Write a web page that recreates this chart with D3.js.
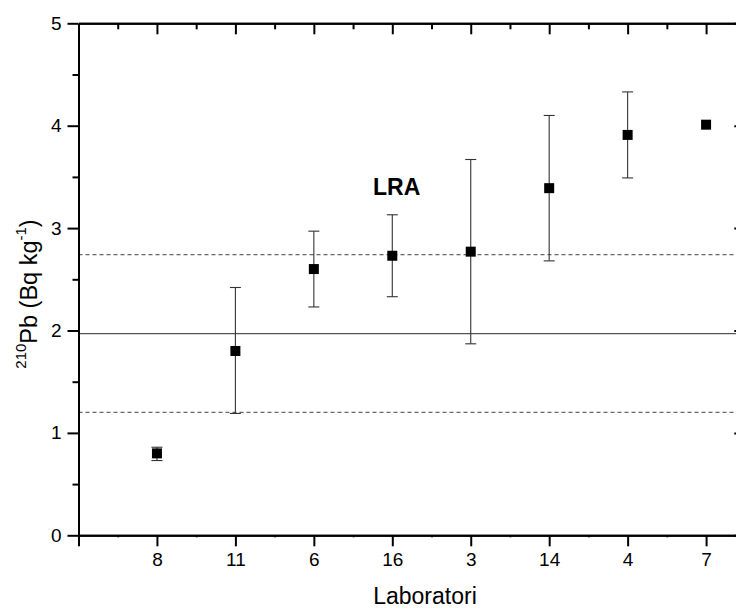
<!DOCTYPE html>
<html>
<head>
<meta charset="utf-8">
<script src="https://cdn.jsdelivr.net/npm/d3@7"></script>
<style>
  body { margin: 0; background: #fff; }
  svg { display: block; font-family: "Liberation Sans", Arial, sans-serif; }
</style>
</head>
<body>
<div id="chart"></div>
<script>
// Laboratories on the x axis, in plotted order
const labs = ['8', '11', '6', '16', '3', '14', '4', '7'];
// 210Pb activity and error bar ends (Bq/kg)
const values = [0.80, 1.80, 2.60, 2.73, 2.77, 3.39, 3.91, 4.01];
const errLow = [0.73, 1.19, 2.23, 2.33, 1.87, 2.68, 3.49, null];
const errHigh = [0.86, 2.42, 2.97, 3.13, 3.67, 4.10, 4.33, null];
// reference value and its range
const refMean = 1.97;
const refBand = [1.20, 2.74];
const yTicks = [0, 1, 2, 3, 4, 5];
const yMinor = [0.5, 1.5, 2.5, 3.5, 4.5];

const W = 736, H = 611;
const svg = d3.select('#chart').append('svg').attr('width', W).attr('height', H);

const x = d3.scaleLinear().domain([0, 8.5]).range([78.5, 745.3]);
const y = d3.scaleLinear().domain([0, 5]).range([535.3, 23.3]);

const pos = labs.map((d, i) => i + 1);
const xMinor = d3.range(0, 8).map(i => i + 0.5);

function styleAxis(g) {
  g.selectAll('path').attr('stroke', '#000').attr('stroke-width', 2);
  g.selectAll('line').attr('stroke', '#000').attr('stroke-width', 2);
  g.selectAll('text').attr('fill', '#000').style('font-size', '19px')
    .style('font-family', '"Liberation Sans", Arial, sans-serif');
}

// reference lines
svg.append('line')
  .attr('x1', x(0)).attr('x2', x(8.5))
  .attr('y1', y(refMean)).attr('y2', y(refMean))
  .attr('stroke', '#555').attr('stroke-width', 1.3);
refBand.forEach(v => {
  svg.append('line')
    .attr('x1', x(0)).attr('x2', x(8.5))
    .attr('y1', y(v)).attr('y2', y(v))
    .attr('stroke', '#666').attr('stroke-width', 1.2)
    .attr('stroke-dasharray', '4,3');
});

// error bars
const eb = pos.map((p, i) => ({ p, lo: errLow[i], hi: errHigh[i] })).filter(d => d.lo != null);
const ebG = svg.append('g').attr('stroke', '#333').attr('stroke-width', 1.1);
ebG.selectAll('.stem').data(eb).enter().append('line')
  .attr('x1', d => x(d.p)).attr('x2', d => x(d.p))
  .attr('y1', d => y(d.lo)).attr('y2', d => y(d.hi));
ebG.selectAll('.capHi').data(eb).enter().append('line')
  .attr('x1', d => x(d.p) - 5.5).attr('x2', d => x(d.p) + 5.5)
  .attr('y1', d => y(d.hi)).attr('y2', d => y(d.hi));
ebG.selectAll('.capLo').data(eb).enter().append('line')
  .attr('x1', d => x(d.p) - 5.5).attr('x2', d => x(d.p) + 5.5)
  .attr('y1', d => y(d.lo)).attr('y2', d => y(d.lo));

// markers
svg.selectAll('.pt').data(values).enter().append('rect')
  .attr('x', (d, i) => x(pos[i]) - 5)
  .attr('y', d => y(d) - 5)
  .attr('width', 10).attr('height', 10)
  .attr('fill', '#000');

// bottom axis
svg.append('g').attr('transform', `translate(0,${y(0)})`)
  .call(d3.axisBottom(x).tickValues(xMinor).tickSize(2).tickSizeOuter(0).tickFormat(''))
  .call(styleAxis);
svg.append('g').attr('transform', `translate(0,${y(0)})`)
  .call(d3.axisBottom(x).tickValues([0].concat(pos)).tickSize(11).tickSizeOuter(0).tickPadding(6)
    .tickFormat(d => d === 0 ? '' : labs[d - 1]))
  .call(styleAxis);

// top axis (inward ticks)
svg.append('g').attr('transform', `translate(0,${y(5)})`)
  .call(d3.axisBottom(x).tickValues(xMinor).tickSize(6).tickSizeOuter(0).tickFormat(''))
  .call(styleAxis);
svg.append('g').attr('transform', `translate(0,${y(5)})`)
  .call(d3.axisBottom(x).tickValues(pos).tickSize(11).tickSizeOuter(0).tickFormat(''))
  .call(styleAxis);

// left axis
svg.append('g').attr('transform', `translate(${x(0)},0)`)
  .call(d3.axisLeft(y).tickValues(yMinor).tickSize(6).tickSizeOuter(0).tickFormat(''))
  .call(styleAxis);
svg.append('g').attr('transform', `translate(${x(0)},0)`)
  .call(d3.axisLeft(y).tickValues(yTicks).tickSize(11).tickSizeOuter(0).tickPadding(6).tickFormat(d3.format('d')))
  .call(styleAxis);

// right axis (inward ticks)
svg.append('g').attr('transform', `translate(${x(8.5)},0)`)
  .call(d3.axisLeft(y).tickValues(yTicks).tickSize(11).tickSizeOuter(0).tickFormat(''))
  .call(styleAxis);
svg.append('g').attr('transform', `translate(${x(8.5)},0)`)
  .call(d3.axisLeft(y).tickValues(yMinor).tickSize(6).tickSizeOuter(0).tickFormat(''))
  .call(styleAxis);

// x title
svg.append('text')
  .attr('x', 425).attr('y', 604)
  .attr('text-anchor', 'middle')
  .style('font-size', '23px')
  .text('Laboratori');

// y title
const yt = svg.append('text')
  .attr('transform', 'translate(37,294) rotate(-90)')
  .attr('text-anchor', 'middle')
  .style('font-size', '23.5px');
yt.append('tspan').style('font-size', '15px').attr('dy', -11).text('210');
yt.append('tspan').attr('dy', 11).text('Pb (Bq kg');
yt.append('tspan').style('font-size', '15px').attr('dy', -11).text('-1');
yt.append('tspan').attr('dy', 11).text(')');

// annotation
svg.append('text')
  .attr('x', 373).attr('y', 195)
  .style('font-size', '23px').style('font-weight', 'bold')
  .text('LRA');
</script>
</body>
</html>
